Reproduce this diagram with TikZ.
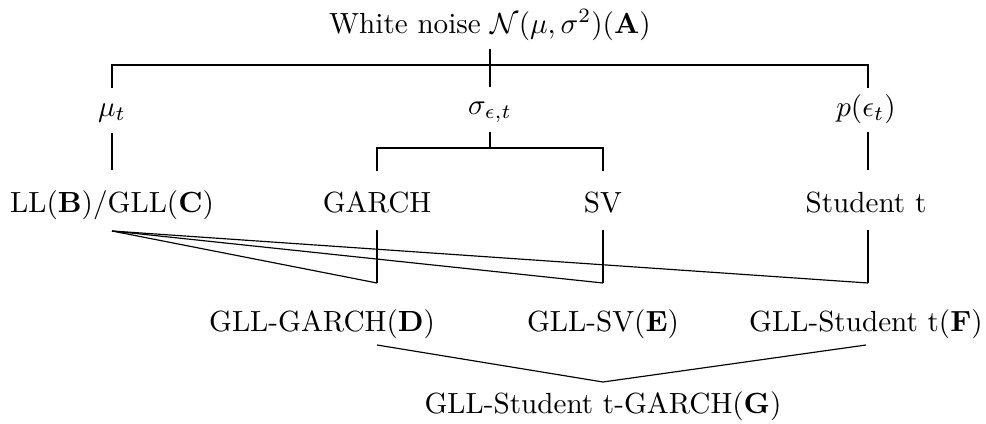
\documentclass[tikz,border=0pt]{standalone}
\begin{document}
\begin{tikzpicture}[x=0.343pt,y=-0.343pt,
  thk/.style={line width=0.72pt},
  thkk/.style={line width=1pt},
  thn/.style={line width=0.4pt},
  lbl/.style={anchor=base,inner sep=0pt}]
\useasboundingbox (0,0) rectangle (986,424);
% nodes
\node[lbl] (A) at (490,33) {White noise $\mathcal{N}(\mu,\sigma^2)(\mathbf{A})$};
\node[lbl] (mu) at (112,116) {$\mu_t$};
\node[lbl] (sig) at (490,114) {$\sigma_{\epsilon,t}$};
\node[lbl] (p) at (866,116) {$p(\epsilon_t)$};
\node[lbl] (ll) at (112,212) {LL($\mathbf{B}$)/GLL($\mathbf{C}$)};
\node[lbl] (garch) at (377,212) {GARCH};
\node[lbl] (sv) at (603,212) {SV};
\node[lbl] (st) at (866,212) {Student t};
\node[lbl] (D) at (322,331) {GLL-GARCH($\mathbf{D}$)};
\node[lbl] (E) at (603,331) {GLL-SV($\mathbf{E}$)};
\node[lbl] (F) at (866,331) {GLL-Student t($\mathbf{F}$)};
\node[lbl] (G) at (603,413) {GLL-Student t-GARCH($\mathbf{G}$)};
% junction coordinates
\coordinate (tA) at (490,49);
\coordinate (sigT) at (490,87);
\coordinate (hL) at (112,65);
\coordinate (hR) at (868,65);
\coordinate (muT) at (112,88);
\coordinate (pT) at (868,88);
\coordinate (muB) at (112,133);
\coordinate (llT) at (112,170);
\coordinate (sigB) at (490,132);
\coordinate (hM) at (490,148);
\coordinate (hG) at (377,148);
\coordinate (hS) at (603,148);
\coordinate (garchT) at (377,171);
\coordinate (svT) at (603,171);
\coordinate (pB) at (868,132);
\coordinate (stT) at (868,170);
\coordinate (garchB) at (377,230);
\coordinate (svB) at (603,230);
\coordinate (stB) at (868,230);
\coordinate (llB) at (112,231);
\coordinate (gD) at (377,283);
\coordinate (gE) at (603,283);
\coordinate (gF) at (868,283);
\coordinate (dB) at (377,345);
\coordinate (fB) at (866,345);
\coordinate (gV) at (603,382);
% connectors
\draw[thk] (tA) -- (sigT);
\draw[thk] (muT) -- (hL) -- (hR) -- (pT);
\draw[thk] (muB) -- (llT);
\draw[thk] (pB) -- (stT);
\draw[thk] (sigB) -- (hM);
\draw[thk] (garchT) -- (hG) -- (hS) -- (svT);
\draw[thk] (garchB) -- (gD);
\draw[thkk] (svB) -- (gE);
\draw[thk] (stB) -- (gF);
\draw[thn] (llB) -- (gD);
\draw[thn] (llB) -- (gE);
\draw[thn] (llB) -- (gF);
\draw[thn] (dB) -- (gV) -- (fB);
\end{tikzpicture}
\end{document}
